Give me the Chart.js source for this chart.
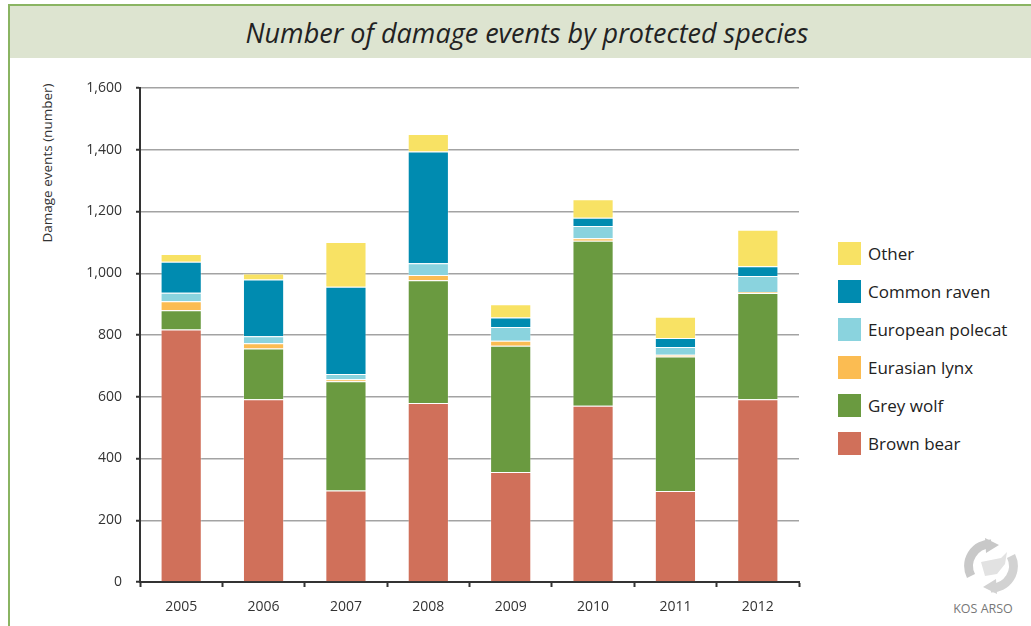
<!DOCTYPE html>
<html>
<head>
<meta charset="utf-8">
<script src="https://cdn.jsdelivr.net/npm/chart.js@4.4.1/dist/chart.umd.min.js"></script>
<style>
  body { margin: 0; background: #fff; width: 1031px; height: 626px; overflow: hidden; position: relative; font-family: "Open Sans", sans-serif; }
  #frame { position: absolute; left: 8px; top: 4px; width: 1030px; height: 700px; border-left: 2px solid #8ab462; border-top: 2px solid #8ab462; }
  #band { position: absolute; left: 10px; top: 6px; width: 1021px; height: 52px; background: #dde4d0; }
  #title { position: absolute; left: 0; top: 14px; width: 1054px; text-align: center; font-style: italic; font-size: 27px; color: #222; }
  #yTitle { position: absolute; left: 47px; top: 163px; transform: translate(-50%, -50%) rotate(-90deg); font-size: 13.5px; color: #333; white-space: nowrap; }
  #chartWrap { position: absolute; left: 0; top: 60px; width: 830px; height: 566px; }
  #legend { position: absolute; left: 838px; top: 242px; }
  .item { height: 38px; display: flex; align-items: flex-start; }
  .box { width: 23px; height: 23px; margin-right: 7px; }
  .lbl { font-size: 17px; color: #222; line-height: 23px; }
  #logo { position: absolute; left: 945px; top: 538px; width: 76px; text-align: center; }
  #logo svg { margin-left: 16px; display: block; }
  #logo span { font-size: 12.5px; color: #777; display: block; margin-top: 6px; }
</style>
</head>
<body>
<div id="frame"></div>
<div id="band"></div>
<div id="title">Number of damage events by protected species</div>
<div id="yTitle">Damage events (number)</div>
<div id="chartWrap"><canvas id="chart" width="830" height="566"></canvas></div>
<div id="legend"></div>
<div id="logo">
  <svg width="60" height="56" viewBox="0 0 60 56">
    <path d="M30 6 A22 22 0 0 0 10 38" fill="none" stroke="#c8c8c8" stroke-width="9"/>
    <polygon points="24,0 38,7 25,15" fill="#c8c8c8"/>
    <path d="M30 50 A22 22 0 0 0 50 18" fill="none" stroke="#d2d2d2" stroke-width="9"/>
    <polygon points="36,56 22,49 35,41" fill="#d2d2d2"/>
    <path d="M20 24 L40 20 L46 14 L44 26 L36 36 L24 38 Z" fill="#e2e2e2"/>
  </svg>
  <span>KOS ARSO</span>
</div>
<script>
// Years on the category axis
const years = ['2005', '2006', '2007', '2008', '2009', '2010', '2011', '2012'];

// Damage events per species
const brownBear = [818, 592, 296, 580, 356, 571, 295, 592];
const greyWolf = [62, 164, 354, 397, 409, 534, 435, 344];
const eurasianLynx = [29, 17, 7, 17, 16, 8, 6, 3];
const europeanPolecat = [28, 23, 17, 38, 45, 40, 25, 52];
const commonRaven = [100, 184, 282, 362, 31, 27, 29, 32];
const other = [25, 19, 145, 57, 43, 60, 69, 118];

const seriesNames = ['Brown bear', 'Grey wolf', 'Eurasian lynx', 'European polecat', 'Common raven', 'Other'];
const seriesData = [brownBear, greyWolf, eurasianLynx, europeanPolecat, commonRaven, other];
const seriesColors = ['#d0705a', '#6a9a40', '#fbbc52', '#8ad3de', '#008bb0', '#f8e264'];

// Build datasets
const datasets = seriesNames.map((name, i) => ({
    label: name,
    data: seriesData[i],
    backgroundColor: seriesColors[i],
    borderColor: 'rgba(255,255,255,0.3)',
    borderWidth: 1,
    barPercentage: 0.5,
    categoryPercentage: 1.0
}));

// Legend (top to bottom, reversed stack order)
const legendEl = document.getElementById('legend');
for (let i = seriesNames.length - 1; i >= 0; i--) {
    const row = document.createElement('div');
    row.className = 'item';
    row.innerHTML = `<div class="box" style="background:${seriesColors[i]}"></div><div class="lbl">${seriesNames[i]}</div>`;
    legendEl.appendChild(row);
}

const ctx = document.getElementById('chart').getContext('2d');
new Chart(ctx, {
    type: 'bar',
    data: { labels: years, datasets: datasets },
    options: {
        responsive: false,
        animation: false,
        maintainAspectRatio: false,
        locale: 'en-US',
        layout: { padding: { left: 0, top: 28, right: 31, bottom: 0 } },
        plugins: {
            legend: { display: false },
            tooltip: { enabled: false }
        },
        scales: {
            x: {
                stacked: true,
                offset: true,
                grid: {
                    offset: true,
                    drawOnChartArea: false,
                    tickLength: 5,
                    tickColor: '#333',
                    tickWidth: 2
                },
                border: { color: '#333', width: 2 },
                ticks: { color: '#333', font: { family: 'Open Sans', size: 14 }, padding: 12, maxRotation: 0 },
                afterFit: (scale) => { scale.height = 44; }
            },
            y: {
                stacked: true,
                min: 0,
                max: 1600,
                ticks: { stepSize: 200, color: '#333', font: { family: 'Open Sans', size: 14 }, padding: 14 },
                grid: {
                    color: '#a3a3a3',
                    lineWidth: 1.5,
                    tickLength: 4,
                    tickColor: '#333',
                    tickWidth: 2
                },
                border: { color: '#333', width: 2 },
                afterFit: (scale) => { scale.width = 140; }
            }
        }
    }
});
</script>
</body>
</html>
